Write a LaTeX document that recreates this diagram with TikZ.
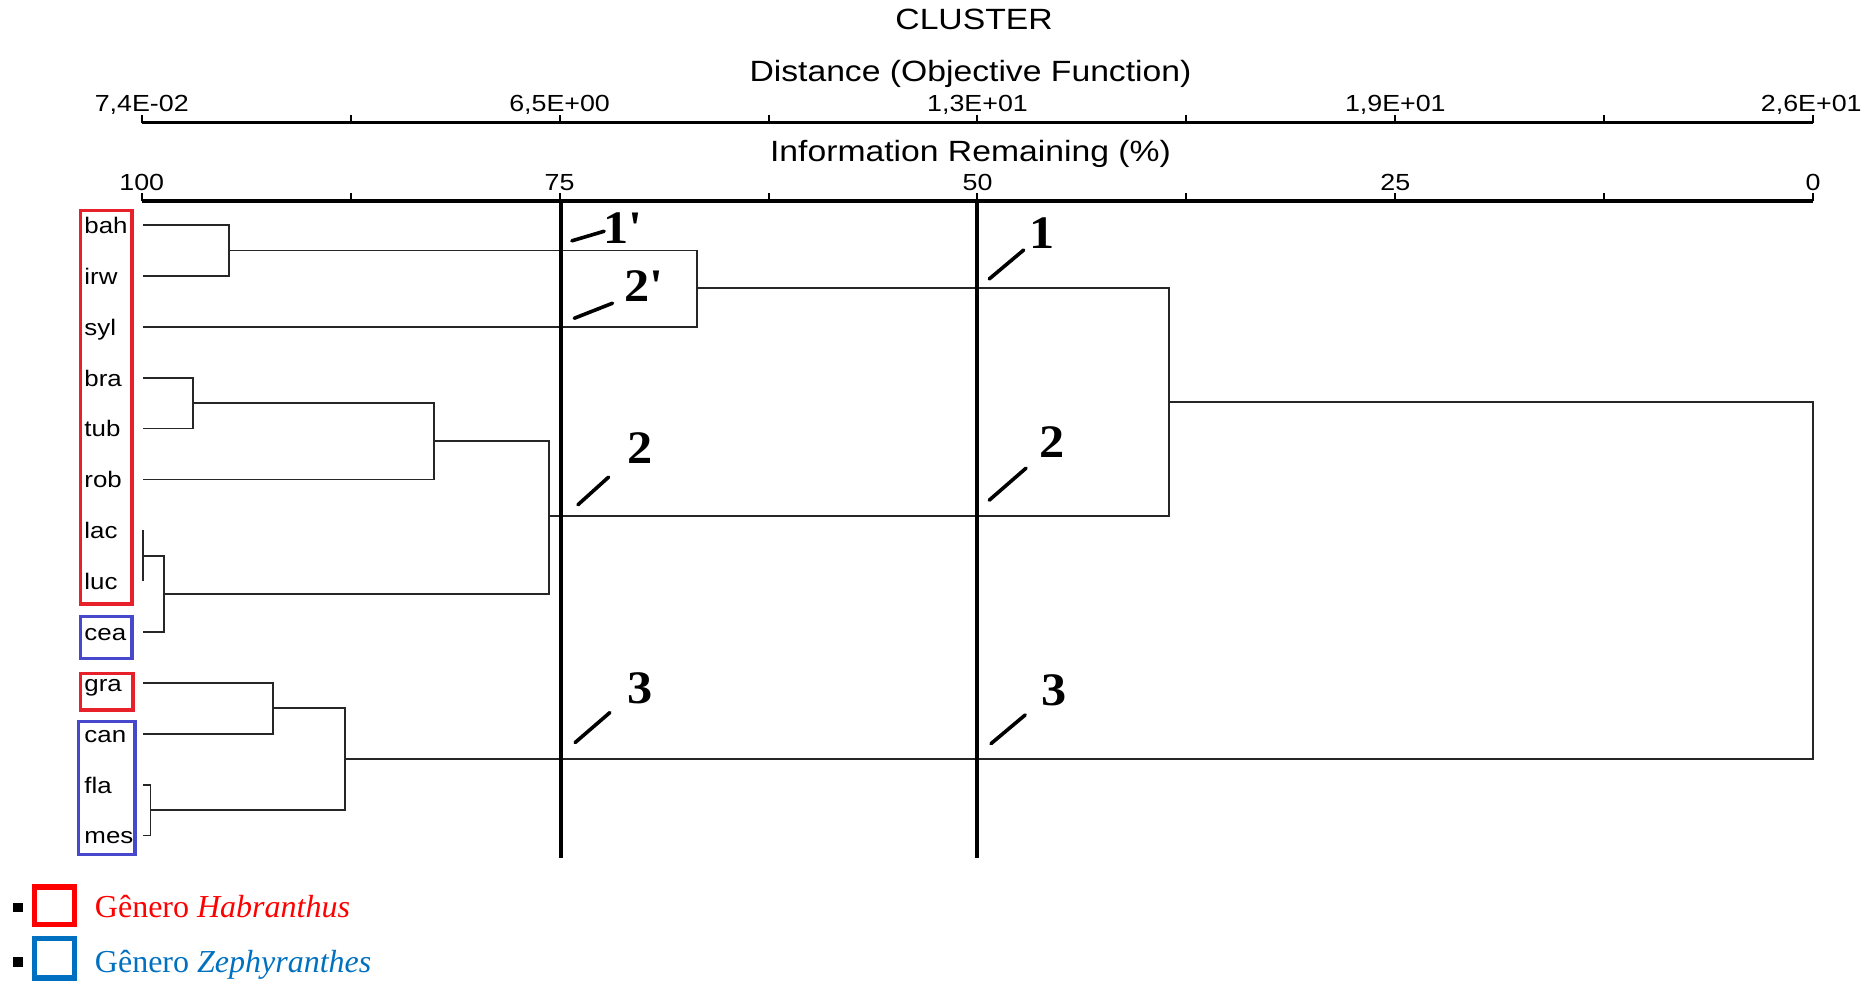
\documentclass[tikz,border=0pt]{standalone}
\usepackage{fontspec}
\usepackage{graphicx}
\usetikzlibrary{calc}
\newfontfamily\sansf{Liberation Sans}
\newfontfamily\serff{Liberation Serif}
\definecolor{boxred}{RGB}{232,32,42}
\definecolor{boxblue}{RGB}{72,72,204}
\definecolor{legred}{RGB}{255,0,0}
\definecolor{legblue}{RGB}{0,112,192}
\newcommand{\hstr}[1]{\scalebox{1.15}[1]{#1}}
\newcommand{\hstrb}[1]{\scalebox{1.08}[1]{#1}}
\begin{document}
\begin{tikzpicture}[x=1.1952pt,y=-1.1952pt,
  title/.style={font=\sansf\fontsize{29.3}{30}\selectfont, anchor=base, inner sep=0},
  axlab/.style={font=\sansf\fontsize{23.3}{24}\selectfont, anchor=base, inner sep=0},
  leaf/.style={font=\sansf\fontsize{22.5}{23}\selectfont, anchor=base west, inner sep=0},
  grp/.style={font=\serff\bfseries\fontsize{46.6}{47}\selectfont, anchor=base west, inner sep=0},
  legtext/.style={font=\serff\fontsize{32}{33}\selectfont, anchor=base west, inner sep=0},
  tree/.style={line width=1.8pt, black!85},
  axisline/.style={line width=3.3pt},
  tickline/.style={line width=2pt},
  cutline/.style={line width=4pt},
  slashline/.style={line width=3.6pt, line cap=round},
  groupbox/.style={line width=3.3pt},
  legbox/.style={line width=5.6pt}
]
\useasboundingbox (0,0) rectangle (1568,820.8);

% titles
\node[title] (tcluster) at (815,24.5) {\hstr{CLUSTER}};
\node[title] (tdist) at (812,68) {\hstr{Distance (Objective Function)}};
\node[title] (tinfo) at (812,135) {\hstr{Information Remaining (\%)}};

% top axis
\coordinate (ta0) at (118.6,102.5);
\coordinate (ta8) at (1517.1,102.5);
\draw[axisline] (ta0) -- (ta8);
\foreach \i in {0,...,8}{
  \draw[tickline] ($(ta0)!\i/8!(ta8)$) -- ++(0,-6.5);
}
\node[axlab] (d1) at (118.6,93.5) {\hstr{7,4E-02}};
\node[axlab] (d2) at (468.2,93.5) {\hstr{6,5E+00}};
\node[axlab] (d3) at (817.9,93.5) {\hstr{1,3E+01}};
\node[axlab] (d4) at (1167.5,93.5) {\hstr{1,9E+01}};
\node[axlab] (d5) at (1515.5,93.5) {\hstr{2,6E+01}};

% bottom axis
\coordinate (ba0) at (118.6,168.2);
\coordinate (ba8) at (1517.1,168.2);
\draw[axisline] (ba0) -- (ba8);
\foreach \i in {0,...,8}{
  \draw[tickline] ($(ba0)!\i/8!(ba8)$) -- ++(0,-6.5);
}
\node[axlab] (p1) at (118.6,159) {\hstr{100}};
\node[axlab] (p2) at (468.2,159) {\hstr{75}};
\node[axlab] (p3) at (817.9,159) {\hstr{50}};
\node[axlab] (p4) at (1167.5,159) {\hstr{25}};
\node[axlab] (p5) at (1517.1,159) {\hstr{0}};

% leaves
\foreach \n [count=\k from 0] in {bah,irw,syl,bra,tub,rob,lac,luc,cea,gra,can,fla,mes}{
  \pgfmathsetmacro{\yy}{188.3+42.57*\k}
  \coordinate (\n) at (120,\yy);
  \node[leaf] (L\n) at (70.5,\yy+7) {\hstr{\n}};
}

% joins
\coordinate (j1) at (191.4,209.6);
\coordinate (j2) at (583.2,240.7);
\coordinate (j3) at (161.5,337.3);
\coordinate (j4) at (363.1,369.0);
\coordinate (j5) at (119.6,465.0);
\coordinate (j6) at (136.9,497.0);
\coordinate (j7) at (459.2,432.0);
\coordinate (j8) at (978.0,336.4);
\coordinate (j9) at (228.5,592.7);
\coordinate (j10) at (126.0,677.9);
\coordinate (j11) at (288.5,635.3);
\coordinate (j12) at (1517.1,485.9);

\draw[tree] (bah) -| (j1) |- (irw);
\draw[tree] (j1) -| (j2) |- (syl);
\draw[tree] (bra) -| (j3) |- (tub);
\draw[tree] (j3) -| (j4) |- (rob);
\draw[tree] (lac -| j5) -- (luc -| j5);
\draw[tree] (j5) -| (j6) |- (cea);
\draw[tree] (j4) -| (j7) |- (j6);
\draw[tree] (j2) -| (j8) |- (j7);
\draw[tree] (gra) -| (j9) |- (can);
\draw[tree] (fla) -| (j10) |- (mes);
\draw[tree] (j9) -| (j11) |- (j10);
\draw[tree] (j8) -| (j12) |- (j11);

% cut lines
\coordinate (c75t) at (469,168.2);
\coordinate (c75b) at (469,717.5);
\coordinate (c50t) at (817.5,168.2);
\coordinate (c50b) at (817.5,717.5);
\draw[cutline] (c75t) -- (c75b);
\draw[cutline] (c50t) -- (c50b);

% group boxes
\draw[groupbox, boxred] (67.3,176.4) rectangle (110.5,505.4);
\draw[groupbox, boxblue] (67.3,516.0) rectangle (110.5,551.1);
\draw[groupbox, boxred] (67.4,563.7) rectangle (111.3,594.0);
\draw[groupbox, boxblue] (65.8,603.8) rectangle (113.0,714.8);

% group labels and leader slashes
\node[grp] (g1p) at (505,204) {\hstrb{1\textquotesingle}};
\node[grp] (g2p) at (522.5,252) {\hstrb{2\textquotesingle}};
\node[grp] (g2l) at (524.5,388) {\hstrb{2}};
\node[grp] (g3l) at (524.5,589) {\hstrb{3}};
\node[grp] (g1r) at (861,208) {\hstrb{1}};
\node[grp] (g2r) at (870,383) {\hstrb{2}};
\node[grp] (g3r) at (871,590) {\hstrb{3}};

\draw[slashline] (478.5,201.5) -- (505.5,193.5);
\draw[slashline] (480.5,266.3) -- (512.5,253.7);
\draw[slashline] (483.6,422.3) -- (509.2,399.2);
\draw[slashline] (481.2,621.3) -- (510.3,596.2);
\draw[slashline] (827.7,233.4) -- (856.5,209.2);
\draw[slashline] (827.7,418.5) -- (858.5,391.7);
\draw[slashline] (829.2,622.2) -- (857.8,598.2);

% legend
\fill (11.2,755.3) rectangle (19,763);
\fill (11.2,800.7) rectangle (19,808.8);
\draw[legbox, legred] (28.85,742.05) rectangle (62.35,773.55);
\draw[legbox, legblue] (28.85,785.35) rectangle (62.35,818.45);
\node[legtext, text=legred] (leg1) at (79.3,768) {Gênero \textit{Habranthus}};
\node[legtext, text=legblue] (leg2) at (79.3,814) {Gênero \textit{Zephyranthes}};
\end{tikzpicture}
\end{document}
